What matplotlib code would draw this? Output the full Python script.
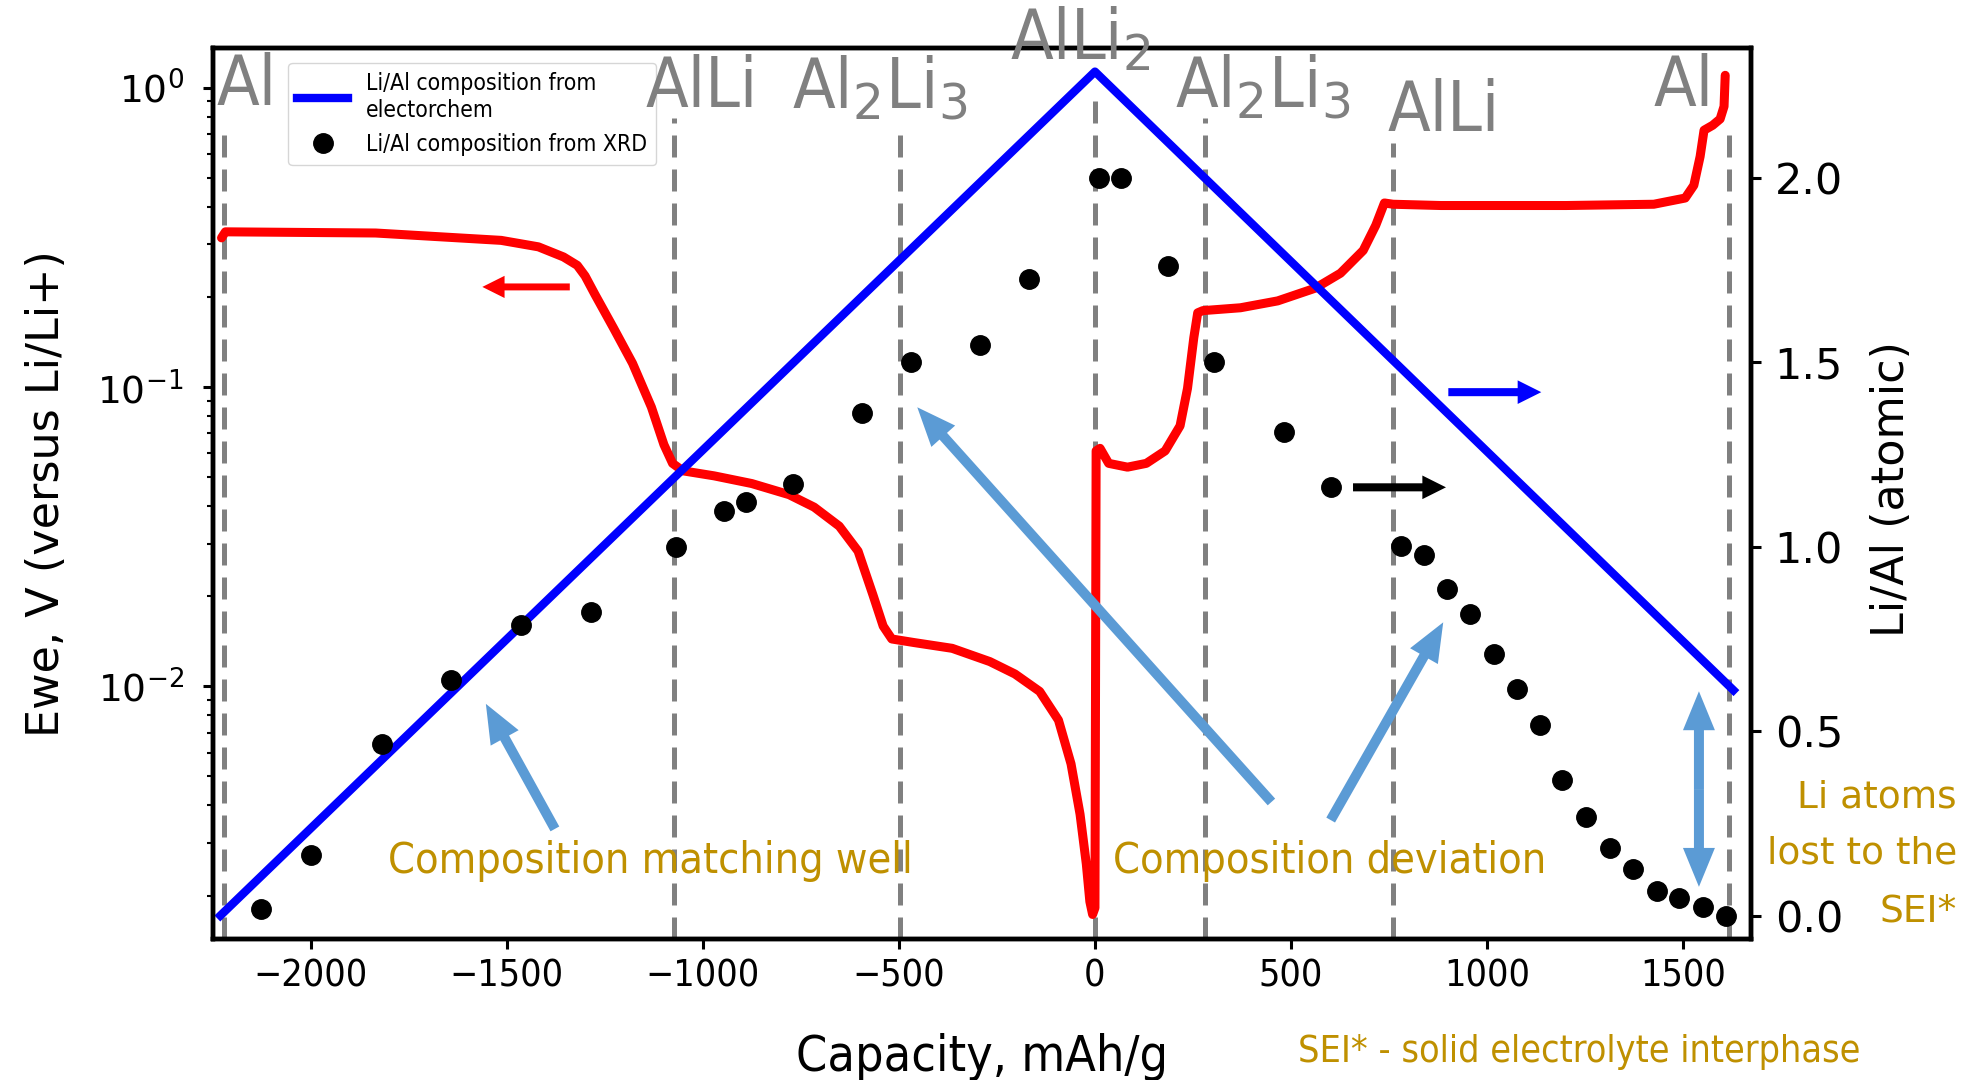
"""Li/Al alloy: electrochemistry vs XRD composition."""

import matplotlib

matplotlib.use("Agg")
import matplotlib.pyplot as plt
from matplotlib import font_manager as fm
from matplotlib.patches import FancyArrowPatch
from matplotlib.transforms import blended_transform_factory

# ---- data -----------------------------------------------------------------
# voltage curve (left, log axis)
RED_CAP = [-2227, -2217, -1834, -1514, -1419, -1355, -1320, -1300, -1275,
           -1227, -1179, -1131, -1099, -1077, -1051, -971, -875, -780, -716,
           -652, -604, -566, -540, -518, -460, -364, -268, -204, -141, -93,
           -61, -38, -22, -13, -6, 0, 3, 13, 35, 83, 131, 179, 217, 236, 252,
           262, 275, 371, 466, 562, 626, 684, 716, 738, 760, 882, 1201, 1425,
           1505, 1527, 1543, 1553, 1575, 1594, 1604, 1607]
RED_V = [0.315, 0.330, 0.327, 0.309, 0.294, 0.272, 0.255, 0.235, 0.204,
         0.157, 0.120, 0.0857, 0.0642, 0.0556, 0.0525, 0.0505, 0.0476,
         0.0437, 0.0397, 0.0343, 0.0283, 0.0202, 0.0159, 0.0144, 0.0140,
         0.0134, 0.0121, 0.0110, 0.00962, 0.00771, 0.00551, 0.00374, 0.00255,
         0.00191, 0.00173, 0.00182, 0.0612, 0.0624, 0.0556, 0.0540, 0.0556,
         0.0612, 0.0742, 0.0990, 0.146, 0.177, 0.180, 0.184, 0.194, 0.214,
         0.240, 0.286, 0.347, 0.412, 0.408, 0.404, 0.404, 0.408, 0.428,
         0.472, 0.589, 0.721, 0.749, 0.786, 0.866, 1.10]

# Li/Al from electrochem (right axis)
BLUE_CAP = [-2230, 0, 1628]
BLUE_RATIO = [0.0, 2.288, 0.611]

# Li/Al from XRD (right axis)
XRD_CAP = [-2126, -1998, -1819, -1643, -1464, -1285, -1068, -946, -889,
           -770, -595, -470, -294, -169, 10, 67, 185, 303, 482, 601, 780,
           838, 898, 956, 1017, 1077, 1135, 1192, 1253, 1314, 1372, 1432,
           1490, 1551, 1608]
XRD_RATIO = [0.017, 0.163, 0.465, 0.638, 0.788, 0.822, 0.998, 1.097, 1.121,
             1.171, 1.362, 1.501, 1.548, 1.725, 2.000, 2.000, 1.762, 1.501,
             1.311, 1.161, 1.002, 0.978, 0.886, 0.818, 0.710, 0.615, 0.516,
             0.367, 0.268, 0.183, 0.126, 0.068, 0.048, 0.024, 0.000]

# phase boundaries
PHASE_X = [-2221, -1073, -497, 0, 281, 760, 1617]
PHASE_LABELS = ["Al", "AlLi", "Al$_2$Li$_3$", "AlLi$_2$", "Al$_2$Li$_3$",
                "AlLi", "Al"]
LABEL_X = [-2162, -1002, -548, -38, 427, 888, 1500]

X_TICKS = [-2000, -1500, -1000, -500, 0, 500, 1000, 1500]
X_TICKLABELS = ["\u22122000", "\u22121500", "\u22121000", "\u2212500", "0",
                "500", "1000", "1500"]
R_TICKS = [0.0, 0.5, 1.0, 1.5, 2.0]
R_TICKLABELS = ["0.0", "0.5", "1.0", "1.5", "2.0"]

# ---- style ----------------------------------------------------------------
GRAY = "#808080"
GOLD = "#BF9000"
LBLUE = "#5B9BD5"

has_cond = any(f.name == "DejaVu Sans" and f.stretch == "condensed"
               for f in fm.fontManager.ttflist)
NARROW = {"fontfamily": "DejaVu Sans",
          "fontstretch": "condensed" if has_cond else "normal"}
K = 1.0 if has_cond else 0.9   # shrink a bit when only the wide face exists


def nsize(s):
    return s * K


fig = plt.figure(figsize=(19.64, 10.80), dpi=100)
ax = fig.add_axes([0.1084, 0.1301, 0.7832, 0.8258])
ax2 = ax.twinx()

ax.set_yscale("log")
ax.set_xlim(-2249, 1673)
ax.set_ylim(0.001427, 1.361)
ax2.set_ylim(-0.0648, 2.353)

# phase lines
tops = [0.915, 0.921, 0.913, 0.949, 0.921, 0.893, 0.911]
for x, t in zip(PHASE_X, tops):
    ax.axvline(x, ymin=0, ymax=t, color=GRAY, lw=3.6, dashes=(4.4, 2.4),
               zorder=1)

ax.plot(RED_CAP, RED_V, color="#FF0000", lw=6.5, solid_joinstyle="round",
        solid_capstyle="round", zorder=2)
blue, = ax2.plot(BLUE_CAP, BLUE_RATIO, color="#0000FF", lw=6.0,
                 label="Li/Al composition from\nelectorchem")
dots, = ax2.plot(XRD_CAP, XRD_RATIO, "o", color="black", ms=14,
                 label="Li/Al composition from XRD")

# phase labels
trans = blended_transform_factory(ax.transData, ax.transAxes)
base_y = [0.9355, 0.933, 0.932, 0.9865, 0.933, 0.907, 0.934]
for x, y, s in zip(LABEL_X, base_y, PHASE_LABELS):
    ax2.text(x, y, s, transform=trans, ha="center", va="baseline",
             fontsize=nsize(50), color=GRAY, clip_on=False, zorder=6,
             **NARROW)


def arrow(axis, a, b, color, ms, hl, hw, tw):
    axis.add_patch(FancyArrowPatch(
        a, b, transform=axis.transData,
        arrowstyle=f"simple,head_length={hl},head_width={hw},tail_width={tw}",
        mutation_scale=ms, color=color, lw=0, shrinkA=0, shrinkB=0,
        clip_on=False, zorder=5))


# axis hint arrows
arrow(ax, (-1339, 0.216), (-1562, 0.216), "#FF0000", 10, 1.6, 1.6, 0.5)
arrow(ax2, (901, 1.419), (1138, 1.419), "#0000FF", 10, 1.7, 1.7, 0.58)
arrow(ax2, (658, 1.161), (895, 1.161), "black", 10, 1.7, 1.7, 0.58)

# comment arrows
arrow(ax2, (-1377, 0.235), (-1553, 0.574), LBLUE, 20, 1.4, 1.15, 0.36)
arrow(ax2, (450, 0.308), (-453, 1.378), LBLUE, 20, 1.4, 1.15, 0.36)
arrow(ax2, (601, 0.259), (888, 0.795), LBLUE, 20, 1.4, 1.15, 0.36)
arrow(ax2, (1540, 0.343), (1540, 0.608), LBLUE, 20, 1.4, 1.15, 0.36)
arrow(ax2, (1540, 0.343), (1540, 0.078), LBLUE, 20, 1.4, 1.15, 0.36)

# ticks
ax.set_xticks(X_TICKS)
ax.set_xticklabels(X_TICKLABELS, fontsize=nsize(27), **NARROW)
ax.tick_params(axis="x", length=7, width=2.2, pad=7)
ax.tick_params(axis="y", which="major", length=7, width=2.2, labelsize=27,
               pad=14)
ax.tick_params(axis="y", which="minor", length=4, width=1.5)
ax2.set_yticks(R_TICKS)
ax2.set_yticklabels(R_TICKLABELS, fontsize=31)
ax2.tick_params(axis="y", length=7, width=2.2, pad=10)
for a in (ax, ax2):
    for sp in a.spines.values():
        sp.set_linewidth(3.2)

ax.set_xlabel("Capacity, mAh/g", fontsize=nsize(36), **NARROW)
ax.xaxis.set_label_coords(0.5, -0.105)
ax.set_ylabel("Ewe, V (versus Li/Li+)", fontsize=32)
ax.yaxis.set_label_coords(-0.094, 0.5)
ax2.set_ylabel("Li/Al (atomic)", fontsize=32)
ax2.yaxis.set_label_coords(1.0774, 0.505)

ax2.legend(handles=[blue, dots], loc="upper left",
           bbox_to_anchor=(0.049, 0.983), borderaxespad=0,
           handlelength=2.2, prop=fm.FontProperties(
               family="DejaVu Sans", stretch=NARROW["fontstretch"],
               size=nsize(16.5)))

# free text
fig.text(0.331, 0.1917, "Composition matching well", color=GOLD,
         fontsize=nsize(31), ha="center", va="baseline", **NARROW)
fig.text(0.677, 0.1917, "Composition deviation", color=GOLD,
         fontsize=nsize(31), ha="center", va="baseline", **NARROW)
for line, ypx in zip(["Li atoms", "lost to the", "SEI*"], [808, 864, 921]):
    fig.text(0.9964, 1 - ypx / 1080, line, color=GOLD, fontsize=27,
             ha="right", va="baseline")
fig.text(0.8043, 0.0167, "SEI* - solid electrolyte interphase", color=GOLD,
         fontsize=nsize(27), ha="center", va="baseline", **NARROW)

fig.savefig("out.png", dpi=100)
